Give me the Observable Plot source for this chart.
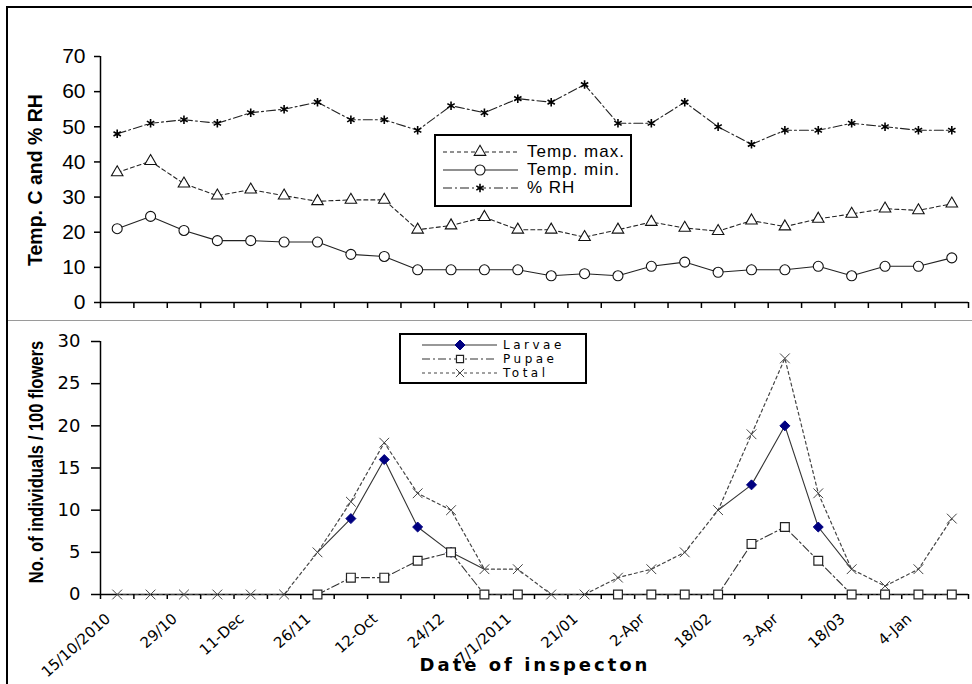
<!DOCTYPE html>
<html><head><meta charset="utf-8">
<script src="https://cdn.jsdelivr.net/npm/d3@7"></script>
<script src="https://cdn.jsdelivr.net/npm/@observablehq/plot@0.6"></script>
<style>
body{margin:0;background:#fff;}
#fig{position:relative;width:972px;height:684px;overflow:hidden;font-family:"Liberation Sans",Arial,sans-serif;background:#fff;}
#frame{position:absolute;left:6px;top:6px;width:1000px;height:720px;border-left:2px solid #000;border-top:2px solid #000;box-sizing:border-box;}
#sep{position:absolute;left:8px;top:320px;width:964px;height:1px;background:#9a9a9a;}
.panel{position:absolute;left:0;}
.ytitle{position:absolute;font-weight:bold;white-space:nowrap;line-height:1;color:#000;}
.legend{position:absolute;border:2px solid #000;background:#fff;box-sizing:border-box;}
.lrow{position:absolute;left:0;height:0;}
.lrow svg{position:absolute;left:0;overflow:visible;}
.lrow span{position:absolute;white-space:nowrap;}
#xtitle{position:absolute;left:535px;top:656px;transform:translateX(-50%);font-family:"DejaVu Sans",sans-serif;font-weight:bold;font-size:18px;letter-spacing:3px;white-space:nowrap;line-height:1;}
</style></head>
<body>
<div id="fig">
  <div id="frame"></div>
  <div id="sep"></div>
  <div id="top" class="panel" style="top:0px"></div>
  <div id="bot" class="panel" style="top:320px"></div>
  <div class="ytitle" style="left:36px;top:180px;font-size:19.5px;transform:translate(-50%,-50%) rotate(-90deg);">Temp. C and % RH</div>
  <div class="ytitle" style="left:35px;top:462px;font-size:21px;transform:translate(-50%,-50%) rotate(-90deg) scaleX(0.79);">No. of individuals / 100 flowers</div>
  <div id="xtitle">Date of inspecton</div>
  <div id="leg1" class="legend" style="left:434px;top:134px;width:198px;height:73px;"></div>
  <div id="leg2" class="legend" style="left:399px;top:333px;width:188px;height:51px;"></div>
</div>
<script>
// ---- data ----
const xLabels = ["15/10/2010","29/10","11-Dec","26/11","12-Oct","24/12","7/1/2011","21/01","2-Apr","18/02","3-Apr","18/03","4-Jan"];
const tempMax = [37, 40.2, 33.8, 30.4, 32.1, 30.4, 28.8, 29.2, 29.2, 20.7, 21.9, 24.3, 20.7, 20.7, 18.6, 20.7, 22.9, 21.2, 20.3, 23.3, 21.6, 23.8, 25.2, 26.7, 26.2, 28.1];
const tempMin = [21, 24.5, 20.5, 17.6, 17.6, 17.2, 17.2, 13.7, 13.1, 9.3, 9.3, 9.3, 9.3, 7.6, 8.2, 7.6, 10.3, 11.5, 8.6, 9.3, 9.3, 10.3, 7.6, 10.3, 10.3, 12.7];
const rh      = [48, 51, 52, 51, 54, 55, 57, 52, 52, 49, 56, 54, 58, 57, 62, 51, 51, 57, 50, 45, 49, 49, 51, 50, 49, 49];
const larvae  = [null, null, null, null, null, null, 5, 9, 16, 8, 5, 3, null, null, null, null, null, null, 10, 13, 20, 8, 3, null, null, null];
const pupae   = [null, null, null, null, null, null, 0, 2, 2, 4, 5, 0, 0, null, null, 0, 0, 0, 0, 6, 8, 4, 0, 0, 0, 0];
const total   = [0, 0, 0, 0, 0, 0, 5, 11, 18, 12, 10, 3, 3, 0, 0, 2, 3, 5, 10, 19, 28, 12, 3, 1, 3, 9];
const yTicksTop = [0, 10, 20, 30, 40, 50, 60, 70];
const yTicksBot = [0, 5, 10, 15, 20, 25, 30];

const n = total.length;
const rows = d3.range(n).map(i => ({i, tmax: tempMax[i], tmin: tempMin[i], rh: rh[i], larvae: larvae[i], pupae: pupae[i], total: total[i]}));
const bounds = d3.range(-0.5, n, 1);
const labelIdx = d3.range(0, n, 2);

const R = {tri: 5.5, circ: 5, ast: 4, dia: 4.5, sq: 5.6, times: 4.5};

// ---- top panel ----
const topPlot = Plot.plot({
  width: 972, height: 318, marginTop: 56, marginBottom: 16, marginLeft: 100, marginRight: 4,
  x: {type: "linear", domain: [-0.5, n - 0.5]},
  y: {domain: [0, 70]},
  style: {background: "transparent", color: "#000", fontFamily: "'Liberation Sans', Arial, sans-serif", overflow: "visible"},
  marks: [
    Plot.axisY({ticks: yTicksTop, tickSize: 6, tickPadding: 9, label: null, fontSize: 21, strokeWidth: 1.5}),
    Plot.axisX({ticks: bounds, tickSize: 6, tickFormat: () => "", label: null, strokeWidth: 1.5}),
    Plot.ruleX([-0.5], {stroke: "#000", strokeWidth: 1.5}),
    Plot.ruleY([0], {stroke: "#000", strokeWidth: 1.5}),
    Plot.line(rows, {x: "i", y: "tmax", stroke: "#222", strokeWidth: 1.1, strokeDasharray: "4,3"}),
    Plot.dot(rows, {x: "i", y: "tmax", symbol: "triangle2", r: R.tri, stroke: "#111", fill: "#fff", strokeWidth: 1.1}),
    Plot.line(rows, {x: "i", y: "tmin", stroke: "#222", strokeWidth: 1.1}),
    Plot.dot(rows, {x: "i", y: "tmin", symbol: "circle", r: R.circ, stroke: "#111", fill: "#fff", strokeWidth: 1.1}),
    Plot.line(rows, {x: "i", y: "rh", stroke: "#222", strokeWidth: 1.1, strokeDasharray: "9,3,2,3"}),
    Plot.dot(rows, {x: "i", y: "rh", symbol: "asterisk", r: R.ast, stroke: "#000", strokeWidth: 1.6})
  ]
});
document.getElementById("top").appendChild(topPlot);

// ---- bottom panel ----
const botPlot = Plot.plot({
  width: 972, height: 364, marginTop: 21, marginBottom: 90, marginLeft: 100, marginRight: 4,
  x: {type: "linear", domain: [-0.5, n - 0.5]},
  y: {domain: [0, 30]},
  style: {background: "transparent", color: "#000", fontFamily: "'DejaVu Sans', sans-serif", overflow: "visible"},
  marks: [
    Plot.axisY({ticks: yTicksBot, tickSize: 9, tickPadding: 11, label: null, fontSize: 18, strokeWidth: 1.5}),
    Plot.axisX({ticks: bounds, tickSize: 5, tickFormat: () => "", label: null, strokeWidth: 1.5}),
    Plot.axisX({ticks: labelIdx, tickSize: 0, tickPadding: 22, dx: -9, tickRotate: -42, tickFormat: i => xLabels[i / 2], label: null, fontSize: 15}),
    Plot.ruleX([-0.5], {stroke: "#000", strokeWidth: 1.5}),
    Plot.ruleY([0], {stroke: "#000", strokeWidth: 1.5}),
    Plot.line(rows, {x: "i", y: "larvae", stroke: "#333", strokeWidth: 1.1}),
    Plot.dot(rows.filter(d => d.larvae != null && d.pupae > 0), {x: "i", y: "larvae", symbol: "diamond2", r: R.dia, fill: "#000080", stroke: "#000080", strokeWidth: 1}),
    Plot.line(rows, {x: "i", y: "pupae", stroke: "#333", strokeWidth: 1.1, strokeDasharray: "8,3,2,3"}),
    Plot.dot(rows.filter(d => d.pupae != null), {x: "i", y: "pupae", symbol: "square2", r: R.sq, fill: "#fff", stroke: "#222", strokeWidth: 1.2}),
    Plot.line(rows, {x: "i", y: "total", stroke: "#444", strokeWidth: 1.2, strokeDasharray: "3,3"}),
    Plot.dot(rows, {x: "i", y: "total", symbol: "times", r: R.times, stroke: "#444", strokeWidth: 1})
  ]
});
document.getElementById("bot").appendChild(botPlot);

// ---- legends ----
function sym(type, r) { return d3.symbol().type(type).size(Math.PI * r * r)(); }
function buildLegend(el, items, g) {
  items.forEach((it, k) => {
    const row = document.createElement("div");
    row.className = "lrow";
    row.style.top = g.rows[k] + "px";
    const svg = d3.create("svg").attr("width", g.x2).attr("height", 2).style("top", "-1px");
    svg.append("line").attr("x1", g.x1).attr("x2", g.x2).attr("y1", 1).attr("y2", 1)
      .attr("stroke", it.stroke).attr("stroke-width", 1.1).attr("stroke-dasharray", it.dash || null);
    svg.append("path").attr("d", sym(it.sym, it.r)).attr("transform", `translate(${g.xm},1)`)
      .attr("fill", it.fill).attr("stroke", it.mstroke).attr("stroke-width", it.sw);
    row.appendChild(svg.node());
    const sp = document.createElement("span");
    sp.textContent = it.label;
    sp.style.left = g.xt + "px";
    sp.style.lineHeight = g.lh + "px";
    sp.style.top = (-g.lh / 2) + "px";
    sp.style.fontSize = g.fs + "px";
    sp.style.fontFamily = g.ff;
    if (g.ls) sp.style.letterSpacing = g.ls + "px";
    row.appendChild(sp);
    el.appendChild(row);
  });
}
buildLegend(document.getElementById("leg1"), [
  {label: "Temp. max.", stroke: "#222", dash: "4,3", sym: d3.symbolTriangle2, r: R.tri, fill: "#fff", mstroke: "#111", sw: 1.1},
  {label: "Temp. min.", stroke: "#222", dash: null, sym: d3.symbolCircle, r: R.circ, fill: "#fff", mstroke: "#111", sw: 1.1},
  {label: "% RH", stroke: "#222", dash: "9,3,2,3", sym: d3.symbolAsterisk, r: R.ast, fill: "none", mstroke: "#000", sw: 1.6}
], {rows: [15.5, 33.5, 51.5], x1: 7, x2: 82, xm: 44, xt: 91, fs: 17, lh: 17, ls: 1, ff: "'Liberation Sans', Arial, sans-serif"});
buildLegend(document.getElementById("leg2"), [
  {label: "Larvae", stroke: "#333", dash: null, sym: d3.symbolDiamond2, r: R.dia, fill: "#000080", mstroke: "#000080", sw: 1},
  {label: "Pupae", stroke: "#333", dash: "8,3,2,3", sym: d3.symbolSquare2, r: 4.5, fill: "#fff", mstroke: "#222", sw: 1.2},
  {label: "Total", stroke: "#444", dash: "3,3", sym: d3.symbolTimes, r: 3.8, fill: "none", mstroke: "#444", sw: 1}
], {rows: [9.5, 23.5, 37.5], x1: 21, x2: 96, xm: 59, xt: 102, fs: 12, lh: 12, ls: 3.5, ff: "'DejaVu Sans', sans-serif"});
</script>
</body></html>
